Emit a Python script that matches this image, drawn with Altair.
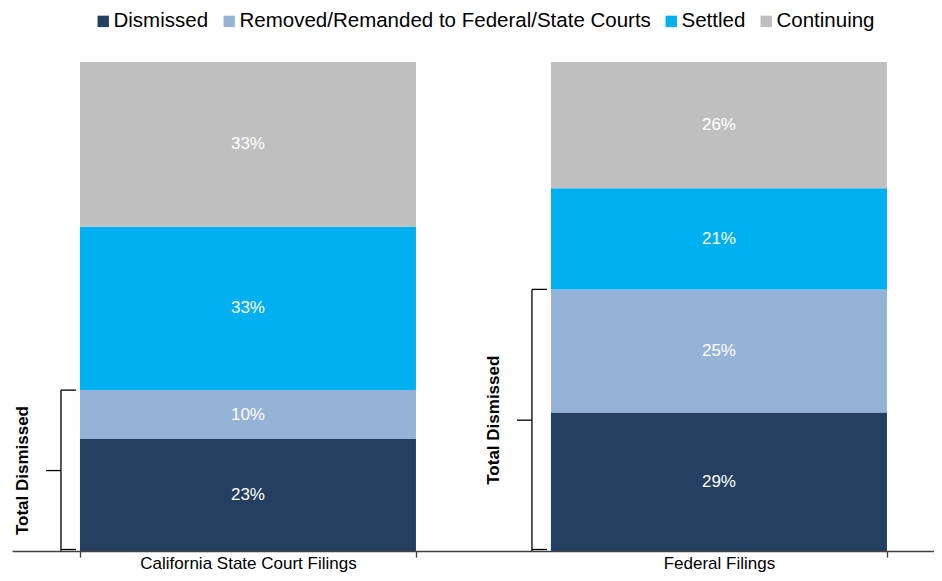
import altair as alt
import pandas as pd

categories = ["California State Court Filings", "Federal Filings"]
statuses = ["Dismissed", "Removed/Remanded to Federal/State Courts", "Settled", "Continuing"]
colors = ["#243F60", "#95B3D7", "#00B0F0", "#BFBFBF"]
ca_values = [22.9, 10.0, 33.4, 33.7]
fed_values = [28.3, 25.2, 20.7, 25.8]
ca_labels = ["23%", "10%", "33%", "33%"]
fed_labels = ["29%", "25%", "21%", "26%"]
bracket_label = "Total Dismissed"

FONT = "Liberation Sans"

rows = []
for cat, vals, labs in [(categories[0], ca_values, ca_labels), (categories[1], fed_values, fed_labels)]:
    for i, (s, v, l) in enumerate(zip(statuses, vals, labs)):
        rows.append({"cat": cat, "status": s, "value": v, "label": l, "order": i})
df = pd.DataFrame(rows)

brk = pd.DataFrame({
    "cat": categories,
    "top": [ca_values[0] + ca_values[1], fed_values[0] + fed_values[1]],
})
brk["mid"] = brk["top"] / 2
brk["zero"] = 0.0

# plot width 922: step 471, bandwidth 336, first band starting 68px in
x_scale = alt.Scale(domain=categories, paddingInner=0.2866, paddingOuter=0.1221, align=0.591)
y_scale = alt.Scale(domain=[0, 100])

x_axis = alt.Axis(title=None, labelAngle=0, tickBand="extent", tickSize=6, labelPadding=11,
                  labelBaseline="alphabetic",
                  labelFontSize=17, labelFont=FONT, labelColor="black", labelLimit=0,
                  domainColor="#404040", tickColor="#404040", domainWidth=1.3, tickWidth=1.3,
                  grid=False)

x_enc = alt.X("cat:N", scale=x_scale, axis=x_axis, sort=categories)
x_start = alt.X("cat:N", scale=x_scale, sort=categories, bandPosition=0, title=None)
x2_start = alt.X2("cat:N", bandPosition=0)

bars = alt.Chart(df).mark_bar(strokeWidth=0).encode(
    x=x_enc,
    y=alt.Y("value:Q", stack="zero", scale=y_scale, axis=None),
    color=alt.Color("status:N", scale=alt.Scale(domain=statuses, range=colors),
                    legend=alt.Legend(title=None, orient="none", legendX=81, legendY=-51,
                                      direction="horizontal", columns=4, symbolType="square",
                                      symbolSize=130, symbolStrokeWidth=0, labelFontSize=20.5,
                                      labelFont=FONT, labelColor="black", columnPadding=10,
                                      labelOffset=0, padding=0, labelLimit=0)),
    order=alt.Order("order:Q", sort="ascending"),
)

labels = alt.Chart(df).transform_stack(
    stack="value", groupby=["cat"], as_=["v0", "v1"],
    sort=[alt.SortField("order", order="ascending")],
).transform_calculate(mid="(datum.v0 + datum.v1) / 2").mark_text(
    color="white", fontSize=17, font=FONT, baseline="middle", align="center"
).encode(
    x=x_enc,
    y=alt.Y("mid:Q", scale=y_scale, axis=None),
    text="label:N",
)

vline = alt.Chart(brk).mark_rule(xOffset=-19, color="black", strokeWidth=1.3).encode(
    x=x_start,
    y=alt.Y("zero:Q", scale=y_scale, axis=None),
    y2="top:Q",
)

serif_bottom = alt.Chart(brk).mark_rule(xOffset=-19, x2Offset=-4, yOffset=-1.5, color="black",
                                         strokeWidth=1.3).encode(
    x=x_start, x2=x2_start,
    y=alt.Y("zero:Q", scale=y_scale, axis=None),
)
serif_top = alt.Chart(brk).mark_rule(xOffset=-19, x2Offset=-4, color="black",
                                      strokeWidth=1.3).encode(
    x=x_start, x2=x2_start,
    y=alt.Y("top:Q", scale=y_scale, axis=None),
)
mid_tick = alt.Chart(brk).mark_rule(xOffset=-34, x2Offset=-19, color="black",
                                     strokeWidth=1.3).encode(
    x=x_start, x2=x2_start,
    y=alt.Y("mid:Q", scale=y_scale, axis=None),
)
brk_text = alt.Chart(brk).mark_text(angle=270, fontWeight="bold", fontSize=17, font=FONT,
                                     xOffset=-57, align="center", baseline="middle",
                                     color="black").encode(
    x=x_start,
    y=alt.Y("mid:Q", scale=y_scale, axis=None),
    text=alt.value(bracket_label),
)

chart = alt.layer(bars, labels, vline, serif_bottom, serif_top, mid_tick, brk_text).properties(
    width=922, height=489,
    padding={"left": 4, "top": 54, "right": 0, "bottom": 22},
    autosize=alt.AutoSizeParams(type="none"),
).configure(font=FONT).configure_view(strokeWidth=0, stroke="transparent")

chart.save("out.html", embed_options={"renderer": "svg", "actions": False})
